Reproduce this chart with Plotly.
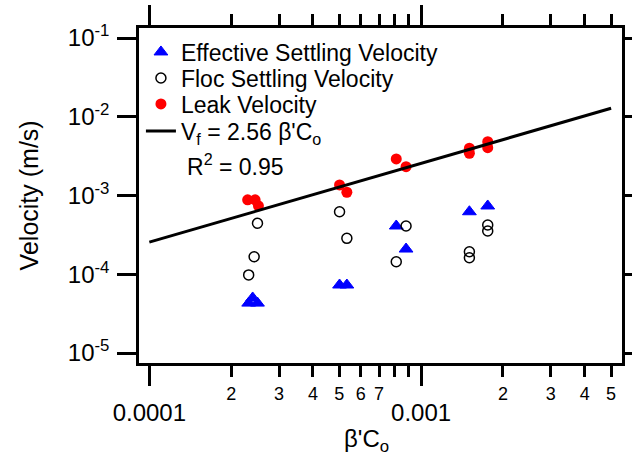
import plotly.graph_objects as go

# ---- data ----
eff_x = [2.32e-4, 2.40e-4, 2.50e-4, 5.01e-4, 5.33e-4, 8.10e-4, 8.80e-4, 1.505e-3, 1.758e-3]
eff_y = [4.3e-5, 5.0e-5, 4.3e-5, 7.3e-5, 7.3e-5, 4.10e-4, 2.09e-4, 6.22e-4, 7.36e-4]

floc_x = [2.50e-4, 2.43e-4, 2.32e-4, 5.01e-4, 5.33e-4, 8.80e-4, 8.10e-4, 1.505e-3, 1.505e-3, 1.758e-3, 1.758e-3]
floc_y = [4.44e-4, 1.67e-4, 9.8e-5, 6.22e-4, 2.86e-4, 4.10e-4, 1.44e-4, 1.93e-4, 1.62e-4, 4.22e-4, 3.54e-4]

leak_x = [2.30e-4, 2.45e-4, 2.52e-4, 5.01e-4, 5.33e-4, 8.10e-4, 8.80e-4, 1.505e-3, 1.505e-3, 1.758e-3, 1.758e-3]
leak_y = [8.8e-4, 8.8e-4, 7.4e-4, 1.36e-3, 1.10e-3, 2.91e-3, 2.32e-3, 3.98e-3, 3.44e-3, 4.82e-3, 4.05e-3]

fit_coef = 2.56
fit_x = [1e-4, 5e-3]
fit_y = [fit_coef * v for v in fit_x]

x_major_vals = [1e-4, 1e-3]
x_major_text = ["0.0001", "0.001"]
x_minor_vals = [2e-4, 3e-4, 4e-4, 5e-4, 6e-4, 7e-4, 8e-4, 9e-4, 2e-3, 3e-3, 4e-3, 5e-3]
x_minor_text = ["2", "3", "4", "5", "6", "7", "", "", "2", "3", "4", "5"]
y_vals = [1e-5, 1e-4, 1e-3, 1e-2, 1e-1]
y_text = ["10<sup>-5</sup>", "10<sup>-4</sup>", "10<sup>-3</sup>", "10<sup>-2</sup>", "10<sup>-1</sup>"]

FONT = "Liberation Sans, Arial, sans-serif"
xr = [-4.038, -2.261]
yr = [-5.127, -0.873]
LEG_FONT = 23

fig = go.Figure()
fig.add_trace(go.Scatter(x=eff_x, y=eff_y, mode="markers", name="Effective Settling Velocity",
                         legend="legend",
                         marker=dict(symbol="triangle-up", size=12, color="#0000ff",
                                     line=dict(color="#0000ff", width=1))))
fig.add_trace(go.Scatter(x=floc_x, y=floc_y, mode="markers", name="Floc Settling Velocity",
                         legend="legend2",
                         marker=dict(symbol="circle-open", size=10, color="black",
                                     line=dict(color="black", width=1.5))))
fig.add_trace(go.Scatter(x=leak_x, y=leak_y, mode="markers", name="Leak Velocity",
                         legend="legend3",
                         marker=dict(symbol="circle", size=11, color="#ff0000")))
fig.add_trace(go.Scatter(x=fit_x, y=fit_y, mode="lines",
                         name="V<sub>f</sub> = 2.56 β'C<sub>o</sub>",
                         legend="legend4",
                         line=dict(color="black", width=3)))
# invisible trace carrying the minor tick labels on an overlay axis
fig.add_trace(go.Scatter(x=[None], y=[None], xaxis="x2", showlegend=False, hoverinfo="skip"))


def leg(ycenter_px):
    return dict(x=0.004, y=1 - (ycenter_px - 28) / 335, xanchor="left", yanchor="middle",
                bgcolor="rgba(0,0,0,0)", font=dict(size=LEG_FONT, family=FONT),
                tracegroupgap=0, itemwidth=30)


fig.update_layout(
    width=632, height=466,
    margin=dict(l=139, r=10, t=28, b=103, autoexpand=False),
    paper_bgcolor="white", plot_bgcolor="white",
    font=dict(family=FONT, color="black"),
    showlegend=True,
    legend=leg(52), legend2=leg(78), legend3=leg(104), legend4=leg(131),
    xaxis=dict(type="log", range=xr, tickvals=x_major_vals, ticktext=x_major_text,
               ticks="outside", ticklen=20, tickwidth=2.5, tickcolor="black",
               showline=True, linewidth=2.5, linecolor="black", mirror="ticks",
               showgrid=False, zeroline=False, tickfont=dict(size=24),
               ticklabelstandoff=6, automargin=False,
               minor=dict(tickvals=x_minor_vals, ticks="outside", ticklen=11,
                          tickwidth=2.5, tickcolor="black", showgrid=False)),
    xaxis2=dict(type="log", range=xr, overlaying="x", anchor="y", side="bottom",
                tickvals=x_minor_vals, ticktext=x_minor_text,
                ticks="outside", ticklen=11, tickwidth=2.5, tickcolor="black",
                showline=False, showgrid=False, zeroline=False, automargin=False,
                tickfont=dict(size=18), ticklabelstandoff=3),
    yaxis=dict(type="log", range=yr, tickvals=y_vals, ticktext=y_text,
               ticks="outside", ticklen=19, tickwidth=2.5, tickcolor="black",
               showline=True, linewidth=2.5, linecolor="black", mirror="ticks",
               showgrid=False, zeroline=False, tickfont=dict(size=24),
               ticklabelstandoff=3, automargin=False),
    annotations=[
        dict(text="R<sup>2</sup> = 0.95", xref="paper", yref="paper", x=0.095, y=0.59,
             xanchor="left", yanchor="middle", showarrow=False, font=dict(size=23)),
        dict(text="β'C<sub>o</sub>", xref="paper", yref="paper", x=0.47, y=-0.23,
             xanchor="center", yanchor="middle", showarrow=False, font=dict(size=24)),
        dict(text="Velocity (m/s)", xref="paper", yref="paper", x=-0.228, y=0.5,
             xanchor="center", yanchor="middle", showarrow=False, textangle=-90,
             font=dict(size=25)),
    ],
)

fig.write_html("out.html")
